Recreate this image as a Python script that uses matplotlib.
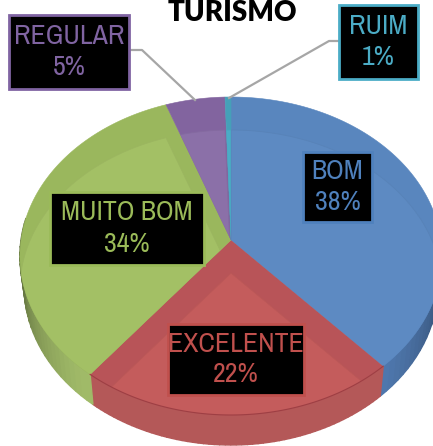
import numpy as np
import matplotlib
matplotlib.use('Agg')
import matplotlib.pyplot as plt
from matplotlib.patches import Polygon, Rectangle

title = 'TURISMO'
labels = ['BOM', 'EXCELENTE', 'MUITO BOM', 'REGULAR', 'RUIM']
# slice sizes as measured on the picture, the printed percents are rounded
shares = [38.3, 22.3, 33.9, 5.0, 0.5]
percents = [38, 22, 34, 5, 1]
text_colors = ['#4F81BD', '#C0504D', '#9BBB59', '#8064A2', '#4BACC6']
top_colors = ['#5D8AC2', '#C45C5C', '#A3C065', '#8B70A8', '#4BACC6']
dark_colors = ['#5986BE', '#B85458', '#9AB75D', '#82649F', '#45A0B8']
side_colors = ['#4F78AE', '#B45858', '#A0BA68', '#74598F', '#3F90A6']

# label box: x0, y0, x1, y1 in pixels
boxes = [(303, 152, 372, 222), (168, 324, 304, 395), (50, 192, 204, 265),
         (9, 15, 129, 89), (339, 5, 418, 79)]

cx, cy = 231, 240
rx, ry, k = 210, 157.4, 0.1006
depth = 30
shift = 33
label_font = ['Archivo Narrow', 'Liberation Sans']


def rim(th):
    u, v = np.sin(th), np.cos(th)
    d = 1 + k * v
    return cx + rx * u / d, cy - ry * v / d


def shade(col, f):
    c = np.array(matplotlib.colors.to_rgb(col)) * f
    return tuple(np.clip(c, 0, 1))


fig = plt.figure(figsize=(4.33, 4.46), dpi=100)
ax = fig.add_axes([0, 0, 1, 1])
ax.set_xlim(0, 433)
ax.set_ylim(446, 0)
ax.axis('off')

edges = np.cumsum([0] + shares) / sum(shares) * 2 * np.pi

# side wall first, the lower edge is a little narrower than the top
for i in range(len(shares)):
    ts = np.linspace(edges[i], edges[i + 1], 60)
    for a, b in zip(ts[:-1], ts[1:]):
        m = (a + b) / 2
        if np.cos(m) > 0.15:
            continue
        x0, y0 = rim(a)
        x1, y1 = rim(b)
        bx0 = cx + (x0 - cx) * 0.98
        bx1 = cx + (x1 - cx) * 0.98
        # gets darker towards the sides of the pie
        f = 0.55 + 0.45 * min(1, abs(np.cos(m)) * 1.35)
        c = shade(side_colors[i], f)
        ax.add_patch(Polygon([(x0, y0), (x1, y1), (bx1, y1 + depth), (bx0, y0 + depth)],
                             fc=c, ec=c, lw=1.0))

# top face, with lighter copy moved down inside each slice
for i in range(len(shares)):
    ts = np.linspace(edges[i], edges[i + 1], 120)
    xs, ys = rim(ts)
    pts = np.column_stack([np.r_[cx, xs], np.r_[cy, ys]])
    wedge = Polygon(pts, fc=dark_colors[i], ec=dark_colors[i], lw=0.4, zorder=2)
    ax.add_patch(wedge)
    inner = Polygon(pts + [0, shift], fc=top_colors[i], ec='none', zorder=3)
    ax.add_patch(inner)
    inner.set_clip_path(wedge)
    line = Polygon(pts + [0, shift], fc='none', ec=shade(top_colors[i], 0.95), lw=0.6, zorder=3)
    ax.add_patch(line)
    line.set_clip_path(wedge)

# dark lip on the front of the red slice
ts = np.linspace(edges[1], edges[2], 80)
ax.plot(*rim(ts), color='#9E3F44', lw=0.8, zorder=4)

# leader lines
ax.plot([129, 142, 195], [50, 50, 100], color='#A6A6A6', lw=1.6, zorder=5)
ax.plot([339, 329, 229], [41, 41, 98], color='#A6A6A6', lw=1.6, zorder=5)

ax.text(232, 13, title, ha='center', va='center', fontsize=20, fontweight='heavy',
        family='Lato', color='black', zorder=6)

for i, name in enumerate(labels):
    x0, y0, x1, y1 = boxes[i]
    ax.add_patch(Rectangle((x0, y0), x1 - x0, y1 - y0, fc='black',
                           ec=text_colors[i], lw=2, zorder=6))
    ax.text((x0 + x1) / 2, (y0 + y1) / 2, '%s\n%d%%' % (name, percents[i]),
            ha='center', va='center', ma='center', fontsize=20, linespacing=1.3,
            family=label_font, color=text_colors[i], zorder=7)

fig.savefig('out.png', dpi=100)
